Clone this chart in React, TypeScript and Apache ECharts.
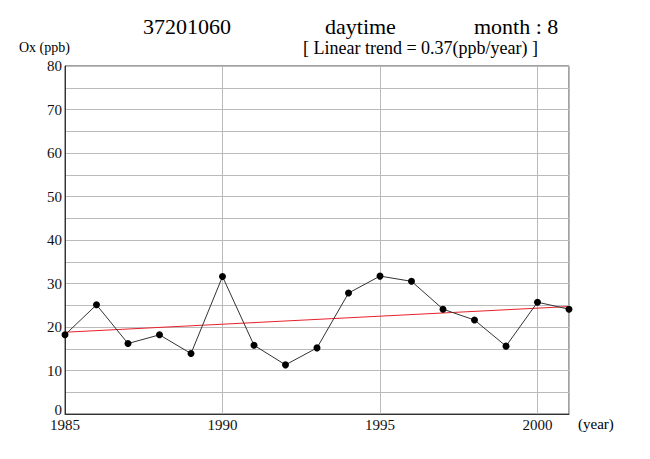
import React, { useEffect, useRef } from "react";
import * as echarts from "echarts";

const years = [1985, 1986, 1987, 1988, 1989, 1990, 1991, 1992, 1993, 1994, 1995, 1996, 1997, 1998, 1999, 2000, 2001];
const oxValues = [18.2, 25.1, 16.2, 18.2, 13.9, 31.6, 15.8, 11.3, 15.2, 27.8, 31.7, 30.5, 24.1, 21.6, 15.6, 25.7, 24.1];
const trendStart = [1985, 18.8];
const trendEnd = [2001, 24.7];
const stationId = "37201060";
const periodLabel = "daytime";
const monthLabel = "month : 8";
const trendLabel = "[ Linear trend = 0.37(ppb/year) ]";

const FONT = "Liberation Serif";

export default function App() {
  const ref = useRef<HTMLDivElement>(null);
  useEffect(() => {
    if (!ref.current) return;
    const chart = echarts.init(ref.current, null, { renderer: "svg" });
    const txt = (text: string, left: number, top: number, size: number) => ({
      type: "text",
      left,
      top,
      style: { text, fontFamily: FONT, fontSize: size, fill: "#000" },
    });
    chart.setOption({
      animation: false,
      backgroundColor: "#fff",
      grid: { left: 65, right: 81, top: 66, bottom: 45, show: true, borderColor: "#444", borderWidth: 1 },
      xAxis: {
        type: "value",
        min: 1985,
        max: 2001,
        interval: 5,
        axisLine: { show: true, lineStyle: { color: "#333" } },
        axisTick: { show: false },
        splitLine: { show: true, lineStyle: { color: "#bbb", width: 1 } },
        axisLabel: {
          showMaxLabel: false,
          color: "#111",
          fontFamily: FONT,
          fontSize: 15,
          margin: 3,
          formatter: (v: number) => String(v),
        },
      },
      yAxis: {
        type: "value",
        min: 0,
        max: 80,
        interval: 5,
        axisLine: { show: true, lineStyle: { color: "#333" } },
        axisTick: { show: false },
        splitLine: { show: true, lineStyle: { color: "#bbb", width: 1 } },
        axisLabel: {
          color: "#111",
          fontFamily: FONT,
          fontSize: 15,
          margin: 3,
          formatter: (v: number) => (v === 0 ? "{low|0}" : v % 10 === 0 ? String(v) : ""),
          rich: { low: { fontFamily: FONT, fontSize: 15, color: "#111", padding: [0, 0, 8, 0] } },
        },
      },
      series: [
        {
          type: "line",
          data: years.map((y, i) => [y, oxValues[i]]),
          symbol: "circle",
          symbolSize: 7,
          itemStyle: { color: "#000" },
          lineStyle: { color: "#333", width: 1 },
          z: 3,
        },
        {
          type: "line",
          data: [trendStart, trendEnd],
          symbol: "none",
          lineStyle: { color: "#e8202a", width: 1 },
          z: 2,
        },
      ],
      graphic: [
        txt(stationId, 143, 15, 22),
        txt(periodLabel, 325, 15, 22),
        txt(monthLabel, 474, 15, 22),
        txt(trendLabel, 303, 39, 18),
        txt("Ox (ppb)", 19, 40, 14),
        txt("(year)", 578, 416, 15),
      ],
    });
    return () => chart.dispose();
  }, []);
  return <div ref={ref} style={{ position: "absolute", left: 0, top: 0, width: 650, height: 459 }} />;
}
